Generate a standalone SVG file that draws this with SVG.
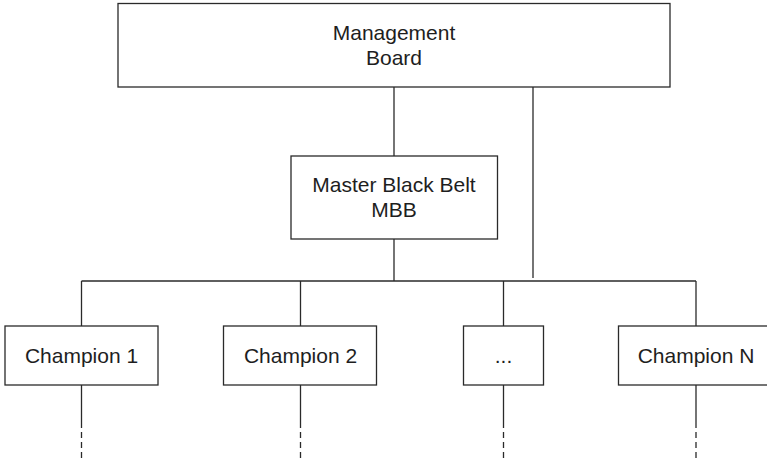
<svg xmlns="http://www.w3.org/2000/svg" width="767" height="462" viewBox="0 0 767 462">
  <style>
    .box { fill: #ffffff; stroke: #2a2a2a; stroke-width: 1.3; }
    .lbl { font-family: "Liberation Sans", Arial, sans-serif; font-size: 21px; fill: #1e1e1e; text-anchor: middle; }
    .wire { fill: none; stroke: #2a2a2a; stroke-width: 1.3; }
    .dash { fill: none; stroke: #2a2a2a; stroke-width: 1.3; stroke-dasharray: 6 4; }
  </style>
  <rect width="767" height="462" fill="#ffffff"/>

  <!-- connectors -->
  <g id="connectors">
    <line class="wire" x1="394" y1="87" x2="394" y2="156"/>
    <line class="wire" x1="533" y1="87" x2="533" y2="278"/>
    <line class="wire" x1="394" y1="239" x2="394" y2="281"/>
    <line class="wire" x1="81.5" y1="281" x2="696" y2="281"/>
    <line class="wire" x1="81.5" y1="281" x2="81.5" y2="326"/>
    <line class="wire" x1="300.5" y1="281" x2="300.5" y2="326"/>
    <line class="wire" x1="503.5" y1="281" x2="503.5" y2="326"/>
    <line class="wire" x1="696" y1="281" x2="696" y2="326"/>
    <!-- continuation below each champion -->
    <line class="wire" x1="81.5" y1="385" x2="81.5" y2="428"/>
    <line class="wire" x1="300.5" y1="385" x2="300.5" y2="428"/>
    <line class="wire" x1="503.5" y1="385" x2="503.5" y2="428"/>
    <line class="wire" x1="696" y1="385" x2="696" y2="428"/>
    <line class="dash" x1="81.5" y1="432" x2="81.5" y2="462"/>
    <line class="dash" x1="300.5" y1="432" x2="300.5" y2="462"/>
    <line class="dash" x1="503.5" y1="432" x2="503.5" y2="462"/>
    <line class="dash" x1="696" y1="432" x2="696" y2="462"/>
  </g>

  <g id="management-board">
    <rect class="box" x="118" y="3.5" width="552" height="83.5"/>
    <text class="lbl" x="394" y="40">Management</text>
    <text class="lbl" x="394" y="65">Board</text>
  </g>

  <g id="master-black-belt">
    <rect class="box" x="291" y="156" width="206.5" height="83"/>
    <text class="lbl" x="394" y="192">Master Black Belt</text>
    <text class="lbl" x="394" y="217">MBB</text>
  </g>

  <g id="champion-1">
    <rect class="box" x="5" y="326" width="153" height="59"/>
    <text class="lbl" x="81.5" y="363">Champion 1</text>
  </g>

  <g id="champion-2">
    <rect class="box" x="223.5" y="326" width="153" height="59"/>
    <text class="lbl" x="300.5" y="363">Champion 2</text>
  </g>

  <g id="champion-more">
    <rect class="box" x="463.5" y="326" width="80" height="59"/>
    <text class="lbl" x="503.5" y="363">...</text>
  </g>

  <g id="champion-n">
    <rect class="box" x="618.5" y="326" width="155" height="59"/>
    <text class="lbl" x="696" y="363">Champion N</text>
  </g>
</svg>
